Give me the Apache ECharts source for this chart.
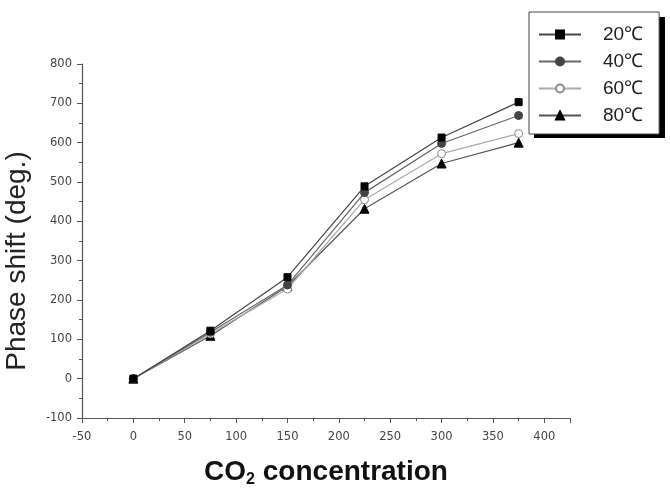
<!DOCTYPE html>
<html>
<head>
<meta charset="utf-8">
<script src="https://cdn.jsdelivr.net/npm/echarts@6/dist/echarts.min.js"></script>
<style>html,body{margin:0;padding:0;background:#fff}#c{width:670px;height:488px}</style>
</head>
<body>
<div id="c"></div>
<script>
const concentrations = [0, 75, 150, 225, 300, 375];
const seriesNames = ['20℃', '40℃', '60℃', '80℃'];
const s20 = [0, 122, 258, 489, 613, 703];
const s40 = [0, 118, 238, 473, 598, 669];
const s60 = [0, 114, 228, 455, 572, 623];
const s80 = [0, 109, 235, 432, 547, 600];
const xTicks = [-50, 0, 50, 100, 150, 200, 250, 300, 350, 400];
const yTicks = [-100, 0, 100, 200, 300, 400, 500, 600, 700, 800];

const chart = echarts.init(document.getElementById('c'));
const font = 'Liberation Sans, Arial, sans-serif';
const tickFont = 'DejaVu Sans, sans-serif';
function pairs(v){ return concentrations.map((x,i)=>[x, v[i]]); }
const styles = [
  {sym:'rect', size:7, fill:'#000', border:'#000', line:'#444'},
  {sym:'circle', size:8, fill:'#444', border:'#444', line:'#666'},
  {sym:'circle', size:8, fill:'#fff', border:'#888', line:'#aaa'},
  {sym:'triangle', size:9, fill:'#000', border:'#000', line:'#555'}
];
const data = [s20, s40, s60, s80];
chart.setOption({
  animation:false,
  backgroundColor:'#fff',
  grid:{left:82, right:100, top:64, bottom:70, containLabel:false, outerBoundsMode:'none'},
  graphic:[{type:'rect', left:534, top:17, shape:{width:131, height:121}, style:{fill:'#000'}, z:0, zlevel:0}],
  legend:{
    left:529, top:12, orient:'vertical', z:5,
    padding:[12,16,8,9], itemGap:6, itemWidth:42, itemHeight:10,
    backgroundColor:'#fff', borderColor:'#444', borderWidth:1, borderRadius:0,
    textStyle:{fontSize:19, fontFamily:font, color:'#222', padding:[0,0,0,17], lineHeight:21},
    data: seriesNames
  },
  xAxis:{
    type:'value', min:-50, max:425, interval:50,
    axisLine:{show:true, onZero:false, lineStyle:{color:'#555', width:1.2}},
    axisTick:{show:true, inside:false, length:5, lineStyle:{color:'#555'}},
    minorTick:{show:true, splitNumber:2, length:3, lineStyle:{color:'#555'}},
    splitLine:{show:false},
    axisLabel:{fontSize:11.5, color:'#444', fontFamily:tickFont, margin:13,
      formatter:v=> xTicks.indexOf(v) >= 0 ? String(v) : ''},
    name:'{a|CO}{b|2}{a| concentration}', nameLocation:'middle', nameGap:38,
    nameTextStyle:{rich:{
      a:{fontSize:28, fontWeight:'bold', fontFamily:font, color:'#111'},
      b:{fontSize:16, fontWeight:'bold', fontFamily:font, color:'#111', verticalAlign:'bottom', padding:[16,0,0,0]}
    }}
  },
  yAxis:{
    type:'value', min:-100, max:800, interval:100,
    axisLine:{show:true, onZero:false, lineStyle:{color:'#555', width:1.2}},
    axisTick:{show:true, inside:false, length:5, lineStyle:{color:'#555'}},
    minorTick:{show:true, splitNumber:2, length:3, lineStyle:{color:'#555'}},
    splitLine:{show:false},
    axisLabel:{fontSize:11.5, color:'#444', fontFamily:tickFont, margin:10,
      formatter:v=> yTicks.indexOf(v) >= 0 ? String(v) : ''},
    name:'Phase shift (deg.)', nameLocation:'middle', nameGap:51,
    nameTextStyle:{fontSize:28, fontFamily:font, color:'#222', padding:[0,40,0,0]}
  },
  series: seriesNames.map((n,i)=>({
    name:n, type:'line', data:pairs(data[i]),
    symbol:styles[i].sym, symbolSize:styles[i].size, showSymbol:true,
    lineStyle:{color:styles[i].line, width:1.2},
    itemStyle:{color:styles[i].fill, borderColor:styles[i].border, borderWidth:1},
    z: 10 - i
  }))
});
</script>
</body>
</html>
